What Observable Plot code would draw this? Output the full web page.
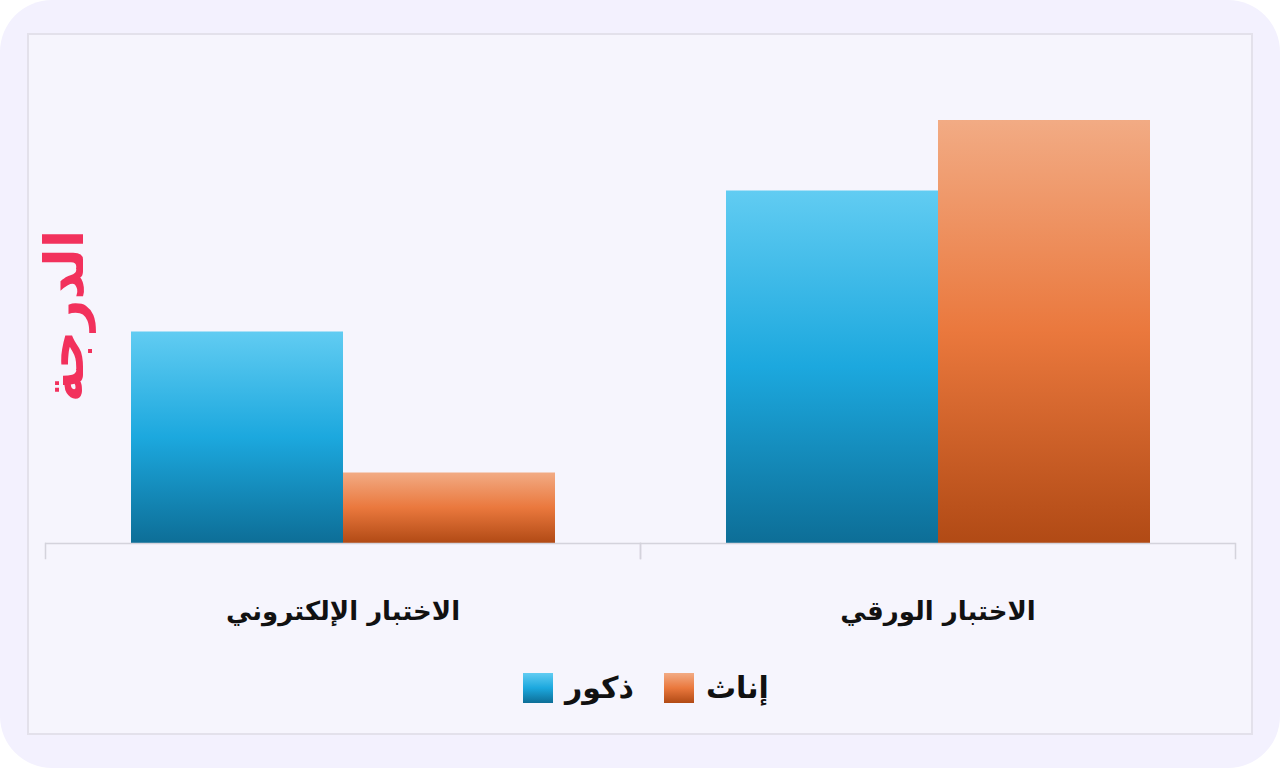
<!DOCTYPE html>
<html>
<head>
<meta charset="utf-8">
<script src="https://cdn.jsdelivr.net/npm/d3@7"></script>
<script src="https://cdn.jsdelivr.net/npm/@observablehq/plot@0.6"></script>
<style>
  html, body { margin: 0; padding: 0; background: #ffffff; }
  #card { position: relative; width: 1280px; height: 768px; background: #f3f1fe; border-radius: 52px; overflow: hidden; font-family: "DejaVu Sans", sans-serif; }
  #inner { position: absolute; left: 27px; top: 33px; width: 1226px; height: 702px; box-sizing: border-box; border: 2px solid #e3e1eb; background: #f6f5fd; }
  #chart { position: absolute; left: 0; top: 0; }
  #legend { position: absolute; left: 523px; top: 670px; display: flex; align-items: center; direction: ltr; font-weight: bold; font-size: 30px; color: #111; }
  .sw { width: 30px; height: 30px; display: inline-block; }
  .lab { margin-left: 12px; margin-right: 30px; }
</style>
</head>
<body>
<div id="card">
  <div id="inner"></div>
  <div id="chart"></div>
  <div id="legend"></div>
</div>
<script>
const tests = ["الاختبار الإلكتروني", "الاختبار الورقي"];
const genders = ["ذكور", "إناث"];
const maleScores = [3, 5];
const femaleScores = [1, 6];
const yLabel = "الدرجة";

const rows = [];
tests.forEach((t, i) => {
  rows.push({test: t, gender: genders[0], score: maleScores[i]});
  rows.push({test: t, gender: genders[1], score: femaleScores[i]});
});

const gridColor = "#d4d3dc";

const chart = Plot.plot({
  width: 1280,
  height: 640,
  marginTop: 120,
  marginBottom: 97,
  marginLeft: 45,
  marginRight: 45,
  style: {background: "transparent", overflow: "visible"},
  fx: {domain: tests, padding: 0, label: null},
  x: {domain: genders, paddingInner: 0, paddingOuter: 0.4, axis: null},
  y: {domain: [0, 6], axis: null},
  color: {domain: genders, range: ["url(#gBlue)", "url(#gOrange)"]},
  marks: [
    Plot.barY(rows, {fx: "test", x: "gender", y: "score", fill: "gender", inset: 0}),
    Plot.ruleY([0], {stroke: gridColor, strokeWidth: 1.5}),
    Plot.frame({anchor: "left", stroke: gridColor, strokeWidth: 1.5, insetTop: 423, insetBottom: -15}),
    Plot.frame({anchor: "right", stroke: gridColor, strokeWidth: 1.5, insetTop: 423, insetBottom: -15}),
    Plot.axisFx({anchor: "bottom", tickSize: 0, tickPadding: 58, fontSize: 26, fontWeight: "bold", fill: "#111", label: null, fontFamily: "DejaVu Sans"}),
    Plot.text([yLabel], {fx: () => tests[0], text: d => d, frameAnchor: "left", textAnchor: "middle", rotate: -90, dx: 20, dy: -16, fontSize: 54, fontWeight: "bold", fill: "#f2315c", fontFamily: "DejaVu Sans"})
  ]
});

const svg = d3.select(chart);
const defs = svg.insert("defs", ":first-child");
function grad(id, stops) {
  const g = defs.append("linearGradient").attr("id", id).attr("x1", 0).attr("y1", 0).attr("x2", 0).attr("y2", 1);
  stops.forEach(([o, c]) => g.append("stop").attr("offset", o).attr("stop-color", c));
}
grad("gBlue", [["0%", "#61ccf2"], ["50%", "#1ca8de"], ["100%", "#0d6e97"]]);
grad("gOrange", [["0%", "#f2ab84"], ["50%", "#ea783d"], ["100%", "#b14a15"]]);

document.getElementById("chart").appendChild(chart);

const legend = document.getElementById("legend");
const swatchColors = ["linear-gradient(#61ccf2, #1ca8de 50%, #0d6e97)", "linear-gradient(#f2ab84, #ea783d 50%, #b14a15)"];
genders.forEach((g, i) => {
  const s = document.createElement("span");
  s.className = "sw";
  s.style.background = swatchColors[i];
  const t = document.createElement("span");
  t.className = "lab";
  t.textContent = g;
  legend.appendChild(s);
  legend.appendChild(t);
});
</script>
</body>
</html>
